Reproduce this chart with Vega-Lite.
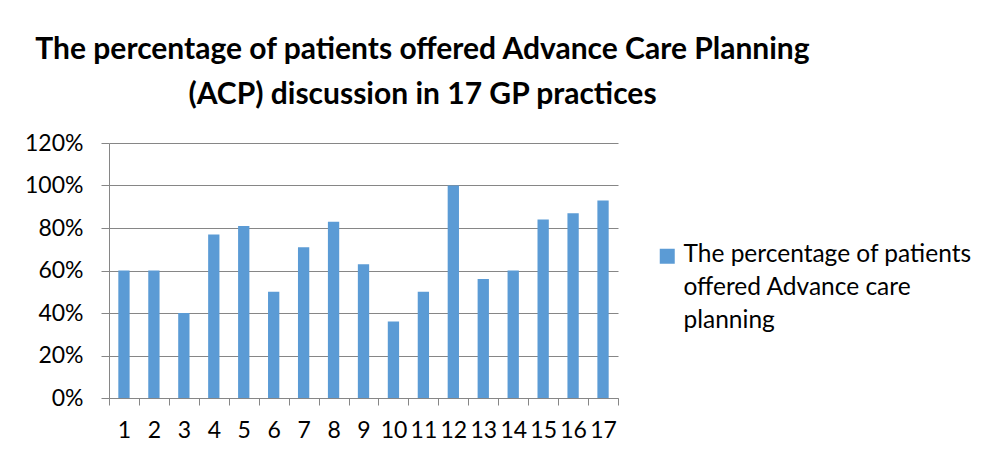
{
  "$schema": "https://vega.github.io/schema/vega-lite/v6.json",
  "autosize": "none",
  "width": 509,
  "height": 255,
  "padding": {"left": 109, "top": 143, "right": 370, "bottom": 61},
  "background": "white",
  "title": {
    "text": ["The percentage of patients offered Advance Care Planning", "(ACP) discussion in 17 GP practices"],
    "font": "Lato",
    "fontSize": 30,
    "fontWeight": "bold",
    "color": "#000000",
    "anchor": "middle",
    "frame": "group",
    "dx": 59,
    "lineHeight": 45,
    "offset": 22
  },
  "data": {
    "values": [
      {"practice": 1, "pct": 60},
      {"practice": 2, "pct": 60},
      {"practice": 3, "pct": 40},
      {"practice": 4, "pct": 77},
      {"practice": 5, "pct": 81},
      {"practice": 6, "pct": 50},
      {"practice": 7, "pct": 71},
      {"practice": 8, "pct": 83},
      {"practice": 9, "pct": 63},
      {"practice": 10, "pct": 36},
      {"practice": 11, "pct": 50},
      {"practice": 12, "pct": 100},
      {"practice": 13, "pct": 56},
      {"practice": 14, "pct": 60},
      {"practice": 15, "pct": 84},
      {"practice": 16, "pct": 87},
      {"practice": 17, "pct": 93}
    ]
  },
  "mark": {"type": "bar", "color": "#5B9BD5", "width": 11.3, "orient": "vertical"},
  "encoding": {
    "x": {
      "field": "practice",
      "type": "quantitative",
      "scale": {"domain": [0.5, 17.5], "nice": false, "zero": false, "padding": 0},
      "axis": {
        "title": null,
        "values": [0.5, 1.5, 2.5, 3.5, 4.5, 5.5, 6.5, 7.5, 8.5, 9.5, 10.5, 11.5, 12.5, 13.5, 14.5, 15.5, 16.5, 17.5],
        "labelExpr": "datum.value < 17 ? format(datum.value + 0.5, 'd') : ''",
        "labelFont": "Lato",
        "labelFontSize": 23,
        "labelColor": "#000000",
        "labelPadding": 14,
        "labelFlush": false,
        "labelOverlap": false,
        "labelAlign": "center",
        "labelOffset": 15,
        "tickSize": 7,
        "tickColor": "#868686",
        "domainColor": "#868686",
        "grid": false
      }
    },
    "y": {
      "field": "pct",
      "type": "quantitative",
      "scale": {"domain": [0, 120]},
      "axis": {
        "title": null,
        "values": [0, 20, 40, 60, 80, 100, 120],
        "labelExpr": "datum.value + '%'",
        "labelFont": "Lato",
        "labelFontSize": 23,
        "labelColor": "#000000",
        "labelPadding": 18,
        "tickSize": 8,
        "tickColor": "#868686",
        "domainColor": "#868686",
        "gridColor": "#868686"
      }
    },
    "color": {
      "datum": "The percentage of patients offered Advance care planning",
      "type": "nominal",
      "scale": {"range": ["#5B9BD5"]},
      "legend": {
        "title": null,
        "orient": "none",
        "legendX": 546,
        "legendY": 101,
        "padding": 0,
        "symbolType": "square",
        "symbolSize": 225,
        "symbolStrokeWidth": 0,
        "symbolOpacity": 1,
        "labelFont": "Lato",
        "labelFontSize": 24.5,
        "labelColor": "#000000",
        "labelLimit": 400,
        "labelOffset": 4,
        "labelBaseline": "alphabetic",
        "labelExpr": "['The percentage of patients', 'offered Advance care', 'planning']",
        "encode": {"labels": {"update": {"lineHeight": {"value": 33}, "dy": {"value": 6}}}}
      }
    }
  },
  "config": {"view": {"stroke": null}}
}
